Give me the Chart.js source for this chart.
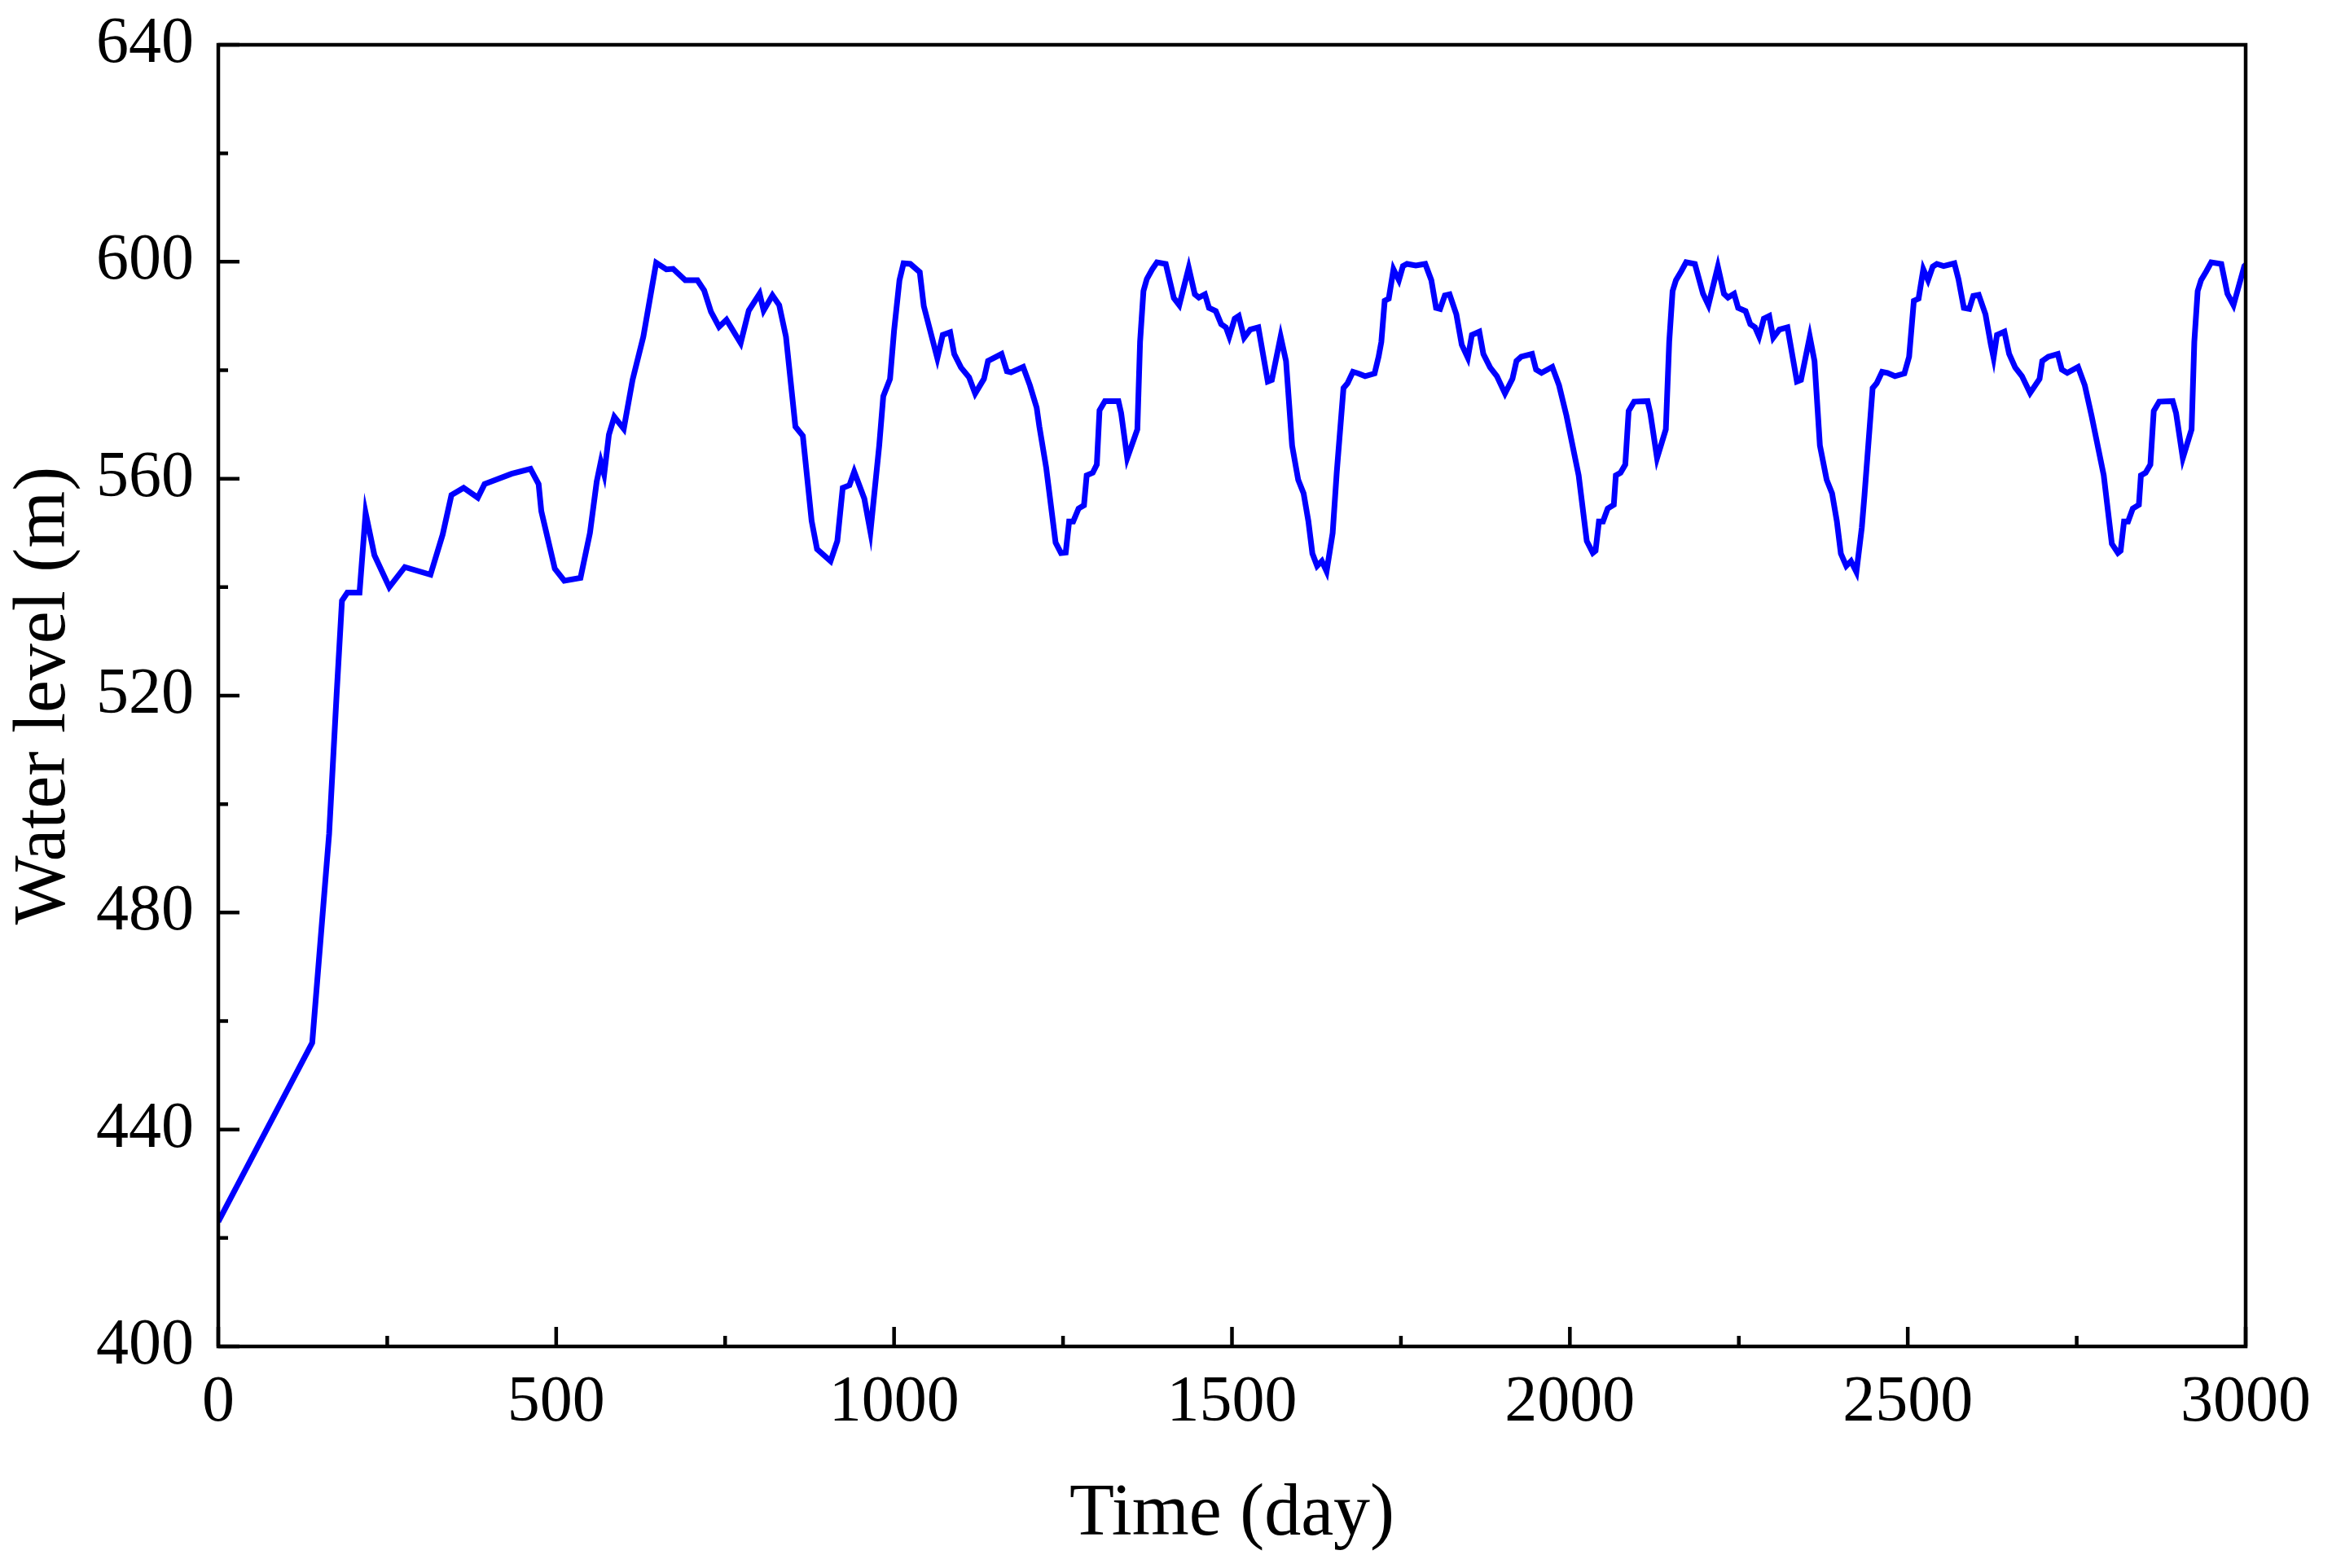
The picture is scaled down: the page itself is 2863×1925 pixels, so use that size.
<!DOCTYPE html>
<html>
<head>
<meta charset="utf-8">
<title>Water level</title>
<script src="https://cdn.jsdelivr.net/npm/chart.js@4/dist/chart.umd.min.js"></script>
<style>
  html, body { margin: 0; padding: 0; background: #fff; }
  #wrap { width: 2863px; height: 1925px; }
</style>
</head>
<body>
<div id="wrap"><canvas id="chart" width="2863" height="1925"></canvas></div>
<script>
const days = [
  0, 139, 164, 175, 183, 191, 209, 218, 231, 253, 276, 314, 332, 345, 363, 384, 394, 434, 462, 474,
  478, 498, 512, 536, 550, 560, 566, 571, 578, 586, 600, 613, 629, 648, 663, 673, 691, 709, 719, 729,
  741, 752, 773, 785, 801, 807, 820, 830, 840, 854, 865, 878, 886, 906, 916, 924, 934, 941, 956, 965,
  978, 984, 994, 1000, 1008, 1014, 1024, 1038, 1044, 1064, 1072, 1083, 1089, 1099, 1111, 1120, 1133, 1139, 1159, 1167,
  1173, 1191, 1201, 1211, 1215, 1225, 1239, 1247, 1254, 1259, 1265, 1273, 1281, 1285, 1294, 1300, 1304, 1312, 1332, 1336,
  1345, 1360, 1364, 1369, 1374, 1382, 1389, 1402, 1414, 1422, 1436, 1445, 1451, 1460, 1466, 1476, 1484, 1491, 1496, 1504,
  1510, 1518, 1527, 1539, 1553, 1559, 1572, 1580, 1589, 1598, 1606, 1613, 1619, 1626, 1633, 1640, 1649, 1655, 1665, 1671,
  1679, 1687, 1697, 1711, 1717, 1721, 1726, 1732, 1739, 1747, 1753, 1759, 1772, 1786, 1795, 1802, 1808, 1815, 1822, 1832,
  1840, 1849, 1855, 1866, 1872, 1882, 1892, 1904, 1915, 1921, 1928, 1944, 1950, 1958, 1974, 1984, 1995, 2013, 2025, 2034,
  2038, 2043, 2049, 2056, 2065, 2068, 2075, 2082, 2087, 2095, 2115, 2119, 2129, 2142, 2147, 2152, 2157, 2165, 2172, 2185,
  2197, 2205, 2219, 2228, 2234, 2243, 2249, 2260, 2267, 2274, 2280, 2287, 2295, 2301, 2310, 2322, 2336, 2342, 2355, 2362,
  2370, 2380, 2388, 2395, 2401, 2409, 2416, 2424, 2432, 2436, 2448, 2454, 2462, 2470, 2481, 2495, 2502, 2509, 2516, 2523,
  2530, 2537, 2543, 2553, 2569, 2575, 2583, 2591, 2597, 2605, 2615, 2623, 2627, 2632, 2643, 2650, 2659, 2669, 2681, 2695,
  2699, 2708, 2722, 2728, 2736, 2752, 2762, 2772, 2790, 2802, 2811, 2815, 2820, 2826, 2833, 2842, 2845, 2852, 2859, 2864,
  2872, 2892, 2897, 2907, 2920, 2924, 2929, 2934, 2942, 2949, 2964, 2973, 2982, 2998, 3000
];
const waterLevel = [
  423, 456, 494.5, 520, 537.5, 539, 539, 553.7, 545.9, 540, 543.7, 542.3, 549.7, 557, 558.3, 556.5, 559, 560.9, 561.8, 559,
  554, 543.4, 541.2, 541.7, 550, 559.5, 563.1, 560.8, 568.1, 571.4, 569.2, 578.2, 586.2, 599.8, 598.6, 598.7, 596.6, 596.6, 594.7, 590.8,
  588, 589.3, 585, 591, 594.1, 591, 593.8, 592, 586.2, 569.6, 567.9, 552.2, 547, 544.8, 548.5, 558.3, 558.8, 561.3, 556.3, 550.2,
  566.1, 575.2, 578.4, 587.3, 596.6, 599.7, 599.6, 598.1, 591.8, 582.2, 586.5, 587, 583, 580.5, 578.7, 575.7, 578.4, 581.7, 583, 579.8,
  579.6, 580.6, 577.2, 573.1, 569.6, 562.1, 548.2, 546.3, 546.4, 552.1, 552.1, 554.5, 555.1, 560.6, 561.1, 562.6, 572.6, 574.3, 574.3, 572.1,
  563.8, 569.1, 585.2, 594.6, 596.8, 598.6, 599.9, 599.6, 593.3, 592, 598.9, 594, 593.4, 594, 591.5, 590.9, 588.5, 587.9, 586.2, 589.5,
  590, 586, 587.5, 587.9, 577.9, 578.2, 586.2, 581.7, 566.1, 559.8, 557.3, 552.2, 546.2, 543.9, 544.8, 542.9, 550, 561.1, 576.7, 577.6,
  579.7, 579.4, 578.9, 579.4, 582.5, 585.2, 592.8, 593.2, 598.6, 596.6, 599.2, 599.6, 599.3, 599.6, 596.6, 591.5, 591.3, 593.8, 594, 590.3,
  584.7, 582.3, 586.5, 587.1, 583, 580.5, 578.9, 575.7, 578.4, 581.7, 582.5, 583, 580.1, 579.5, 580.6, 577.2, 571.6, 560.6, 548.5, 546.3,
  546.7, 552.1, 552.1, 554.5, 555.2, 560.6, 561.1, 562.6, 572.5, 574.2, 574.3, 572.1, 563.8, 569.1, 585.2, 594.6, 596.6, 598.3, 599.9, 599.6,
  594.1, 592, 599.1, 594.1, 593.4, 594.1, 591.5, 590.9, 588.5, 587.9, 586.2, 589.5, 590, 586, 587.5, 587.9, 577.9, 578.2, 586.2, 581.7,
  566.1, 559.8, 557.3, 552.2, 546.2, 543.9, 544.8, 542.8, 551, 557, 576.7, 577.6, 579.7, 579.5, 578.9, 579.4, 582.5, 592.8, 593.2, 598.6,
  596.6, 599.1, 599.6, 599.2, 599.7, 596.8, 591.5, 591.3, 593.7, 593.9, 590.3, 584.7, 582.3, 586.5, 587.1, 583, 580.5, 578.9, 575.8, 578.4,
  581.7, 582.5, 583, 580.1, 579.5, 580.6, 577.2, 571.6, 560.6, 548, 546.3, 546.7, 552.1, 552.1, 554.5, 555.2, 560.6, 561.1, 562.6, 572.5,
  574.2, 574.3, 572.1, 563.8, 569.1, 585.2, 594.6, 596.6, 598.3, 599.9, 599.6, 594.1, 592, 599.2, 599.4
];

// axis ticks
const xMajorTicks = [0, 500, 1000, 1500, 2000, 2500, 3000];
const xMinorTicks = [250, 750, 1250, 1750, 2250, 2750];
const yMajorTicks = [400, 440, 480, 520, 560, 600, 640];
const yMinorTicks = [420, 460, 500, 540, 580, 620];

const FONT = 'Liberation Serif';

// box round the plot, ticks pointing inward (bottom + left only)
const frameTicks = {
  id: 'frameTicks',
  afterDraw(chart) {
    const { ctx, chartArea: a, scales: { x, y } } = chart;
    ctx.save();
    ctx.strokeStyle = '#000';
    ctx.lineWidth = 4.5;
    ctx.beginPath();
    for (const v of xMajorTicks) {
      const px = x.getPixelForValue(v);
      ctx.moveTo(px, a.bottom); ctx.lineTo(px, a.bottom - 24);
    }
    for (const v of xMinorTicks) {
      const px = x.getPixelForValue(v);
      ctx.moveTo(px, a.bottom); ctx.lineTo(px, a.bottom - 13);
    }
    for (const v of yMajorTicks) {
      const py = y.getPixelForValue(v);
      ctx.moveTo(a.left, py); ctx.lineTo(a.left + 26, py);
    }
    for (const v of yMinorTicks) {
      const py = y.getPixelForValue(v);
      ctx.moveTo(a.left, py); ctx.lineTo(a.left + 12, py);
    }
    ctx.stroke();
    ctx.strokeRect(a.left, a.top, a.right - a.left, a.bottom - a.top);
    ctx.restore();
  }
};

const points = days.map((d, i) => ({ x: d, y: waterLevel[i] }));

new Chart(document.getElementById('chart'), {
  type: 'line',
  data: {
    datasets: [{
      data: points,
      borderColor: '#0000ff',
      borderWidth: 7,
      pointRadius: 0,
      tension: 0,
      fill: false,
    }],
  },
  options: {
    responsive: false,
    animation: false,
    events: [],
    layout: { padding: { left: 0, top: 55, right: 106, bottom: 0 } },
    plugins: { legend: { display: false }, tooltip: { enabled: false } },
    scales: {
      x: {
        type: 'linear',
        min: 0,
        max: 3000,
        afterFit: (s) => { s.height = 272; s.paddingLeft = 0; s.paddingRight = 0; },
        grid: { display: false, drawTicks: false },
        border: { display: false },
        ticks: {
          stepSize: 500,
          padding: 22,
          maxRotation: 0,
          color: '#000',
          font: { family: FONT, size: 80 },
          callback: (v) => String(v),
        },
        title: {
          display: true,
          text: 'Time (day)',
          color: '#000',
          font: { family: FONT, size: 90, lineHeight: 1 },
          padding: { top: 0, bottom: 20 },
        },
      },
      y: {
        min: 400,
        max: 640,
        afterFit: (s) => { s.width = 268; s.paddingTop = 0; s.paddingBottom = 0; },
        grid: { display: false, drawTicks: false },
        border: { display: false },
        ticks: {
          stepSize: 40,
          padding: 30,
          color: '#000',
          font: { family: FONT, size: 80 },
          callback: (v) => String(v),
        },
        title: {
          display: true,
          text: 'Water level (m)',
          color: '#000',
          font: { family: FONT, size: 90, lineHeight: 1 },
          padding: { top: 10, bottom: 0 },
        },
      },
    },
  },
  plugins: [frameTicks],
});
</script>
</body>
</html>
